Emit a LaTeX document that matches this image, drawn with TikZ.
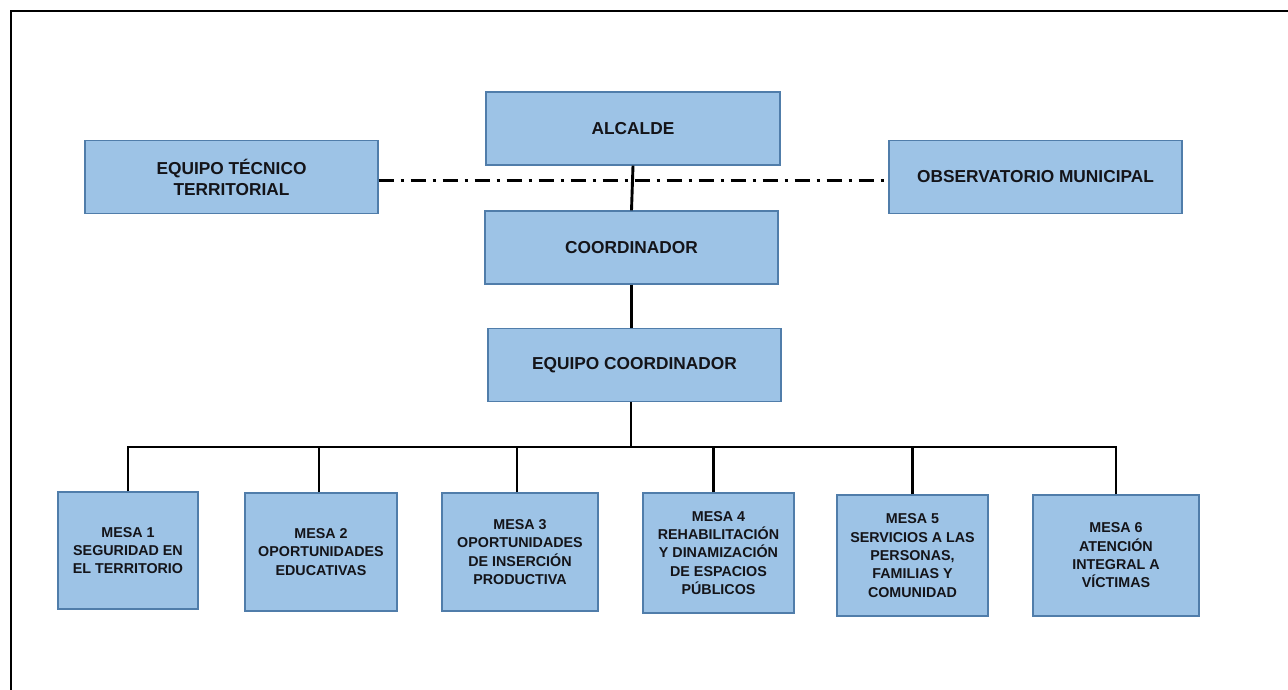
\documentclass[tikz,border=0pt]{standalone}
\usepackage{fontspec}
\setmainfont{Liberation Sans}
\usepackage{tikz}

\begin{document}
\begin{tikzpicture}[x=1pt,y=-1pt]
  \definecolor{caja}{RGB}{157,195,230}
  \definecolor{borde}{RGB}{80,125,170}
  \definecolor{texto}{RGB}{20,20,25}
  \tikzstyle{cargo}=[draw=borde,line width=1.3pt,fill=caja,inner sep=2pt,align=center,
    text=texto,font=\bfseries\fontsize{17.3}{21}\selectfont,minimum height=73]
  \tikzstyle{mesa}=[cargo,font=\bfseries\fontsize{14.3}{18.3}\selectfont]
  \tikzstyle{enlace}=[line width=2.9pt]
  \useasboundingbox (0,0) rectangle (1288,690);
  \draw[line width=2.8pt] (11,690) -- (11,11) -- (1288,11);
  % cargos
  \node (alcalde)      at (633,128.5)  [cargo,minimum width=294] {ALCALDE};
  \node (tecnico)      at (231.5,177)  [cargo,minimum width=293] {EQUIPO TÉCNICO\\TERRITORIAL};
  \node (observatorio) at (1035.5,177) [cargo,minimum width=293] {OBSERVATORIO MUNICIPAL};
  \node (coordinador)  at (631.5,247.5)[cargo,minimum width=293] {COORDINADOR};
  \node (equipo)       at (634.5,365)  [cargo,minimum width=293] {EQUIPO COORDINADOR};
  % mesas
  \node (mesa1) at (128,550.5)  [mesa,minimum width=140,minimum height=117] {MESA 1\\SEGURIDAD EN\\EL TERRITORIO};
  \node (mesa2) at (321,552)    [mesa,minimum width=152,minimum height=118] {MESA 2\\OPORTUNIDADES\\EDUCATIVAS};
  \node (mesa3) at (520,552)    [mesa,minimum width=156,minimum height=118] {MESA 3\\OPORTUNIDADES\\DE INSERCIÓN\\PRODUCTIVA};
  \node (mesa4) at (718.5,553)  [mesa,minimum width=151,minimum height=120] {MESA 4\\REHABILITACIÓN\\Y DINAMIZACIÓN\\DE ESPACIOS\\PÚBLICOS};
  \node (mesa5) at (912.5,555.5)[mesa,minimum width=151,minimum height=121] {MESA 5\\SERVICIOS A LAS\\PERSONAS,\\FAMILIAS Y\\COMUNIDAD};
  \node (mesa6) at (1116,555.5) [mesa,minimum width=166,minimum height=121] {MESA 6\\ATENCIÓN\\INTEGRAL A\\VÍCTIMAS};
  \coordinate (bus) at (631,447);
  % enlaces
  \draw[enlace,dash pattern=on 15pt off 7pt on 3pt off 7pt]
    ([yshift=-3.5pt]tecnico.east) -- ([yshift=-3.5pt]observatorio.west);
  \draw[enlace] (alcalde.south) -- (coordinador.north);
  \draw[enlace] (coordinador.south) -- (coordinador.south |- equipo.north);
  \draw[enlace] (equipo.south -| bus) -- (bus);
  \draw[enlace] (mesa1.north) |- (bus);
  \draw[enlace] ([xshift=-2pt]mesa2.north) |- (bus);
  \draw[enlace] ([xshift=-3pt]mesa3.north) |- (bus);
  \draw[enlace] ([xshift=-5pt]mesa4.north) |- (bus);
  \draw[enlace] (mesa5.north) |- (bus);
  \draw[enlace] (mesa6.north) |- (bus);
\end{tikzpicture}
\end{document}
